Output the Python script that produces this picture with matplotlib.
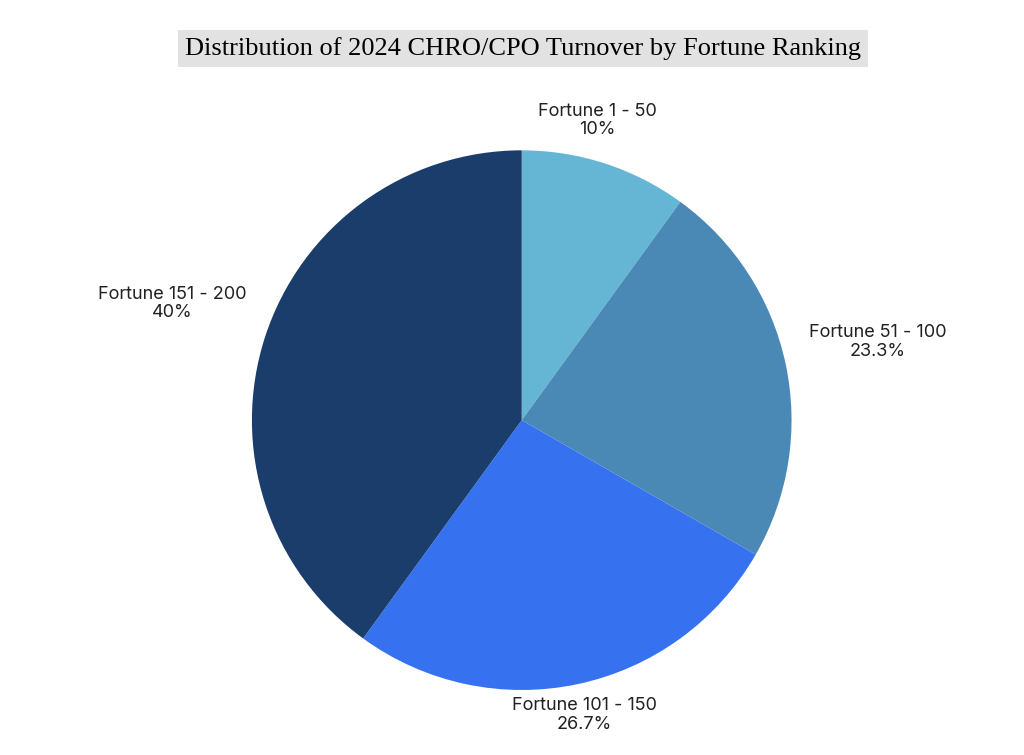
import matplotlib
matplotlib.use("Agg")
import matplotlib.pyplot as plt

groups = ['Fortune 1 - 50', 'Fortune 51 - 100', 'Fortune 101 - 150', 'Fortune 151 - 200']
shares = [10, 23.3, 26.7, 40]
share_labels = ['10%', '23.3%', '26.7%', '40%']
colors = ['#65B6D4', '#4A89B6', '#3672F0', '#1B3D6C']

fig = plt.figure(figsize=(10.24, 7.55), dpi=100)
ax = fig.add_axes([0.246, 0.086, 0.527, 0.715])
ax.pie(shares, colors=colors, startangle=90, counterclock=False,
       wedgeprops=dict(linewidth=0))
ax.set_xlim(-1, 1)
ax.set_ylim(-1, 1)
ax.set_aspect('equal')

# label anchor points in figure fraction
label_pos = [(0.583, 0.84), (0.857, 0.547), (0.571, 0.053), (0.168, 0.598)]
for g, s, (x, y) in zip(groups, share_labels, label_pos):
    fig.text(x, y, g + '\n' + s, ha='center', va='center', fontsize=13,
             family='Inter', color='#222222', linespacing=1.1)

fig.text(0.511, 0.936, 'Distribution of 2024 CHRO/CPO Turnover by Fortune Ranking',
         ha='center', va='center', fontsize=19, family='Liberation Serif',
         bbox=dict(facecolor='#e2e2e2', edgecolor='none', pad=5))

fig.savefig('out.png', dpi=100, facecolor='white')
